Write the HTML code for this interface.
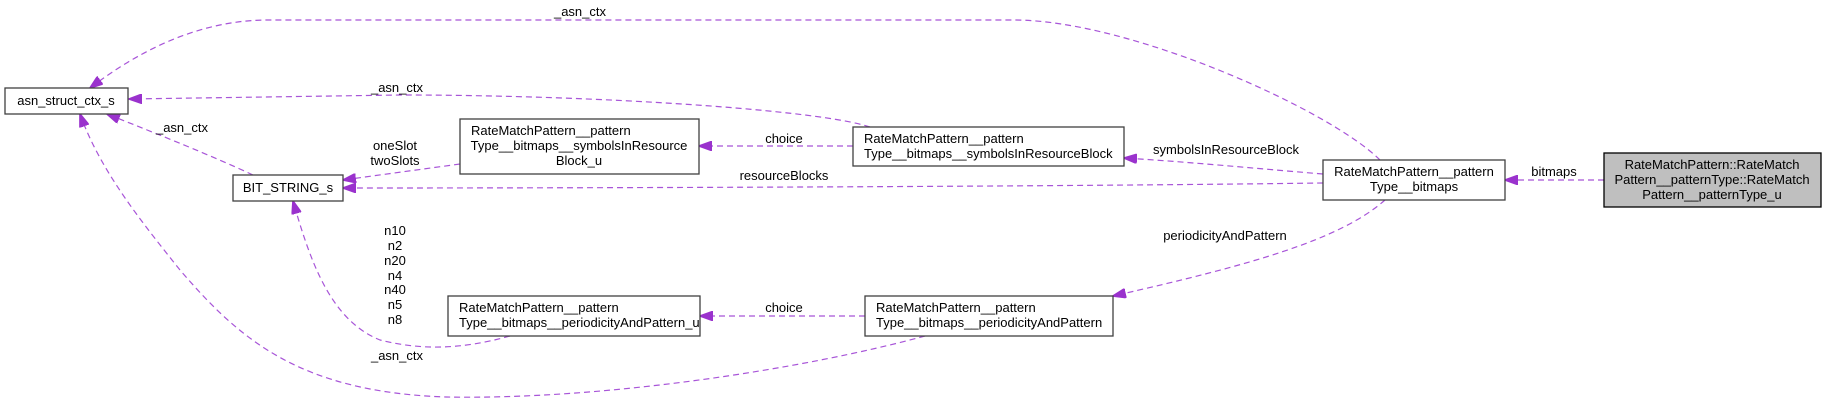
<!DOCTYPE html>
<html><head><meta charset="utf-8"><style>
body{margin:0;background:#fff}
svg{display:block}
text{font-family:"Liberation Sans",sans-serif;font-size:13px;fill:#000}
.e{fill:none;stroke:#a855d8;stroke-width:1.2;stroke-dasharray:6,4}
.a{fill:#9a32cd;stroke:#9a32cd}
.b{fill:#fff;stroke:#404040;stroke-width:1.3}
</style></head><body>
<svg width="1827" height="403" viewBox="0 0 1827 403" xmlns="http://www.w3.org/2000/svg">
<defs><marker id="m" markerWidth="14" markerHeight="10" refX="13" refY="5" orient="auto" markerUnits="userSpaceOnUse"><path d="M0,0 L14,5 L0,10 Z" class="a"/></marker></defs>

<!-- edges -->
<path class="e" marker-end="url(#m)" d="M1380,160 C1330,110 1130,20 1014,20 L268,20 C200,20 140,50 90,88"/>
<path class="e" marker-end="url(#m)" d="M870,127 C820,110 600,95 400,95 L129,99"/>
<path class="e" marker-end="url(#m)" d="M253,175 C210,155 160,135 107,114"/>
<path class="e" marker-end="url(#m)" d="M460,164 L343,180"/>
<path class="e" marker-end="url(#m)" d="M1323,183 C1100,186 700,188 343,188"/>
<path class="e" marker-end="url(#m)" d="M853,146 L699,146"/>
<path class="e" marker-end="url(#m)" d="M1323,174 C1250,168 1190,162 1124,158"/>
<path class="e" marker-end="url(#m)" d="M1385,200 C1340,240 1250,265 1113,296"/>
<path class="e" marker-end="url(#m)" d="M865,316 L700,316"/>
<path class="e" marker-end="url(#m)" d="M510,336 C460,350 420,350 380,340 C330,320 310,260 293,201"/>
<path class="e" marker-end="url(#m)" d="M925,336 C800,370 600,400 446,397 C300,392 240,340 180,270 C140,220 100,170 80,114"/>

<!-- edge labels -->
<text x="580" y="16" text-anchor="middle">_asn_ctx</text>
<text x="397" y="92" text-anchor="middle">_asn_ctx</text>
<text x="182" y="132" text-anchor="middle">_asn_ctx</text>
<text x="395" y="150" text-anchor="middle">oneSlot</text>
<text x="395" y="165" text-anchor="middle">twoSlots</text>
<text x="784" y="180" text-anchor="middle">resourceBlocks</text>
<text x="784" y="143" text-anchor="middle">choice</text>
<text x="1226" y="154" text-anchor="middle">symbolsInResourceBlock</text>
<text x="1225" y="240" text-anchor="middle">periodicityAndPattern</text>
<text x="784" y="312" text-anchor="middle">choice</text>
<text x="395" y="235" text-anchor="middle">n10</text>
<text x="395" y="250" text-anchor="middle">n2</text>
<text x="395" y="265" text-anchor="middle">n20</text>
<text x="395" y="280" text-anchor="middle">n4</text>
<text x="395" y="294" text-anchor="middle">n40</text>
<text x="395" y="309" text-anchor="middle">n5</text>
<text x="395" y="324" text-anchor="middle">n8</text>
<text x="397" y="360" text-anchor="middle">_asn_ctx</text>
<text x="1554" y="176" text-anchor="middle">bitmaps</text>
<path class="e" marker-end="url(#m)" d="M1604,180 L1505,180"/>

<!-- nodes -->
<rect class="b" x="5" y="88" width="123" height="26"/>
<text x="66" y="105" text-anchor="middle">asn_struct_ctx_s</text>

<rect class="b" x="233" y="175" width="110" height="26"/>
<text x="288" y="192" text-anchor="middle">BIT_STRING_s</text>

<rect class="b" x="460" y="119" width="239" height="55"/>
<text x="471" y="135">RateMatchPattern__pattern</text>
<text x="579" y="150" text-anchor="middle">Type__bitmaps__symbolsInResource</text>
<text x="579" y="165" text-anchor="middle">Block_u</text>

<rect class="b" x="853" y="127" width="271" height="39"/>
<text x="864" y="143">RateMatchPattern__pattern</text>
<text x="864" y="158">Type__bitmaps__symbolsInResourceBlock</text>

<rect class="b" x="448" y="296" width="252" height="40"/>
<text x="459" y="312">RateMatchPattern__pattern</text>
<text x="459" y="327">Type__bitmaps__periodicityAndPattern_u</text>

<rect class="b" x="865" y="296" width="248" height="40"/>
<text x="876" y="312">RateMatchPattern__pattern</text>
<text x="876" y="327">Type__bitmaps__periodicityAndPattern</text>

<rect class="b" x="1323" y="160" width="182" height="40"/>
<text x="1414" y="176" text-anchor="middle">RateMatchPattern__pattern</text>
<text x="1414" y="191" text-anchor="middle">Type__bitmaps</text>

<rect x="1604" y="153" width="217" height="54" fill="#bfbfbf" stroke="#000" stroke-width="1.3"/>
<text x="1712" y="169" text-anchor="middle">RateMatchPattern::RateMatch</text>
<text x="1712" y="184" text-anchor="middle">Pattern__patternType::RateMatch</text>
<text x="1712" y="199" text-anchor="middle">Pattern__patternType_u</text>
</svg>
</body></html>
